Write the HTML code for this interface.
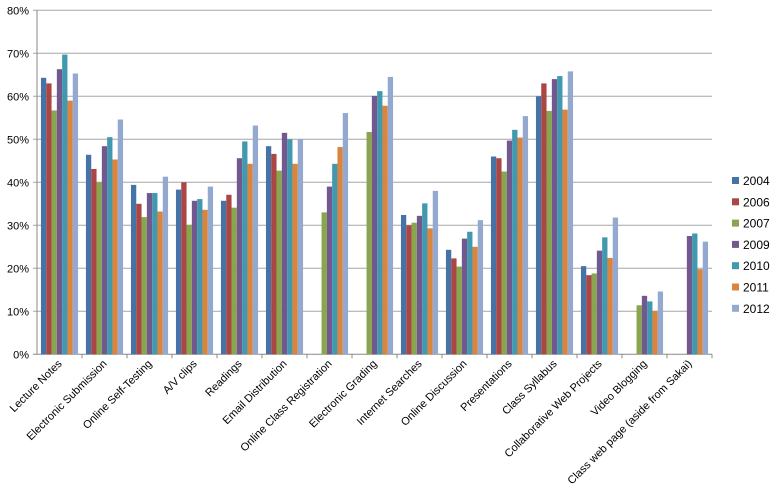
<!DOCTYPE html>
<html><head><meta charset="utf-8"><style>
body{margin:0;background:#fff;}
svg{font-family:"Liberation Sans",sans-serif;}
</style></head><body>
<svg id="c" width="775" height="489" xmlns="http://www.w3.org/2000/svg"></svg>
<script>
const categories=["Lecture Notes","Electronic Submission","Online Self-Testing","A/V clips","Readings","Email Distribution","Online Class Registration","Electronic Grading","Internet Searches","Online Discussion","Presentations","Class Syllabus","Collaborative Web Projects","Video Blogging","Class web page (aside  from Sakai)"];
const years=["2004","2006","2007","2009","2010","2011","2012"];
const colors=["#4572a7","#aa4643","#89a54e","#71588f","#4198af","#db843d","#93a9cf"];
const s2004=[64.3,46.4,39.4,38.3,35.7,48.4,null,null,32.4,24.3,46,60,20.5,null,null];
const s2006=[63,43.1,35,40,37.1,46.6,null,null,30,22.3,45.6,63,18.4,null,null];
const s2007=[56.7,40,31.9,30.1,34.1,42.7,33,51.7,30.6,20.4,42.5,56.6,18.8,11.4,null];
const s2009=[66.3,48.4,37.5,35.7,45.6,51.5,39,60.1,32.2,26.9,49.7,64,24.1,13.6,27.5];
const s2010=[69.7,50.5,37.5,36.1,49.5,50,44.3,61.2,35.1,28.5,52.2,64.7,27.2,12.3,28.1];
const s2011=[59,45.3,33.2,33.6,44.3,44.3,48.2,57.8,29.3,25,50.4,56.9,22.4,10.1,19.8];
const s2012=[65.3,54.6,41.3,39,53.2,50,56.1,64.5,38,31.2,55.4,65.8,31.8,14.6,26.2];
const series=[s2004,s2006,s2007,s2009,s2010,s2011,s2012];
const yTicks=[0,10,20,30,40,50,60,70,80];
const NS="http://www.w3.org/2000/svg";
const svg=document.getElementById("c");
const L=37,R=712,T=10.3,B=354.3,yMax=80;
const cw=(R-L)/categories.length;
const y=v=>B-(v/yMax)*(B-T);
const x=i=>L+i*cw;
function mk(t,a){const e=document.createElementNS(NS,t);for(const k in a)e.setAttribute(k,a[k]);svg.appendChild(e);return e;}
yTicks.forEach(t=>{
  const g=mk("line",{x1:L-4,x2:R,y1:y(t),y2:y(t),stroke:t===0?"#888":"#a6a6a6","stroke-width":1});
  
  
  const tx=mk("text",{x:L-8,y:y(t)+4,"text-anchor":"end","font-size":11,fill:"#000"});
  tx.textContent=t+"%";
  
  
});
const ax=mk("line",{x1:L,x2:L,y1:T,y2:B,stroke:"#888"});


const bw=5.3,off=(cw-bw*7)/2;
categories.forEach((c,i)=>{
  const tk=mk("line",{x1:x(i+1),x2:x(i+1),y1:B,y2:B+4,stroke:"#888"});
  
  
  series.forEach((s,j)=>{
    const v=s[i]; if(v==null)return;
    const r=mk("rect",{x:x(i)+off+j*bw,y:y(v),width:bw,height:B-y(v),fill:colors[j]});
    
    
  });
  const cx=x(i)+cw/2+3,cy=B+10;
  const lt=mk("text",{x:cx,y:cy,"text-anchor":"end","font-size":11,fill:"#000",transform:`rotate(-45 ${cx} ${cy})`});
  lt.textContent=c;
  
  
});
years.forEach((yr,j)=>{
  const ly=181+j*21.3;
  const sq=mk("rect",{x:732,y:ly-4,width:7,height:7,fill:colors[j]});
  
  
  const t=mk("text",{x:743,y:ly+4,"font-size":12,fill:"#000"});
  t.textContent=yr;
  
  
});
</script>
</body></html>
